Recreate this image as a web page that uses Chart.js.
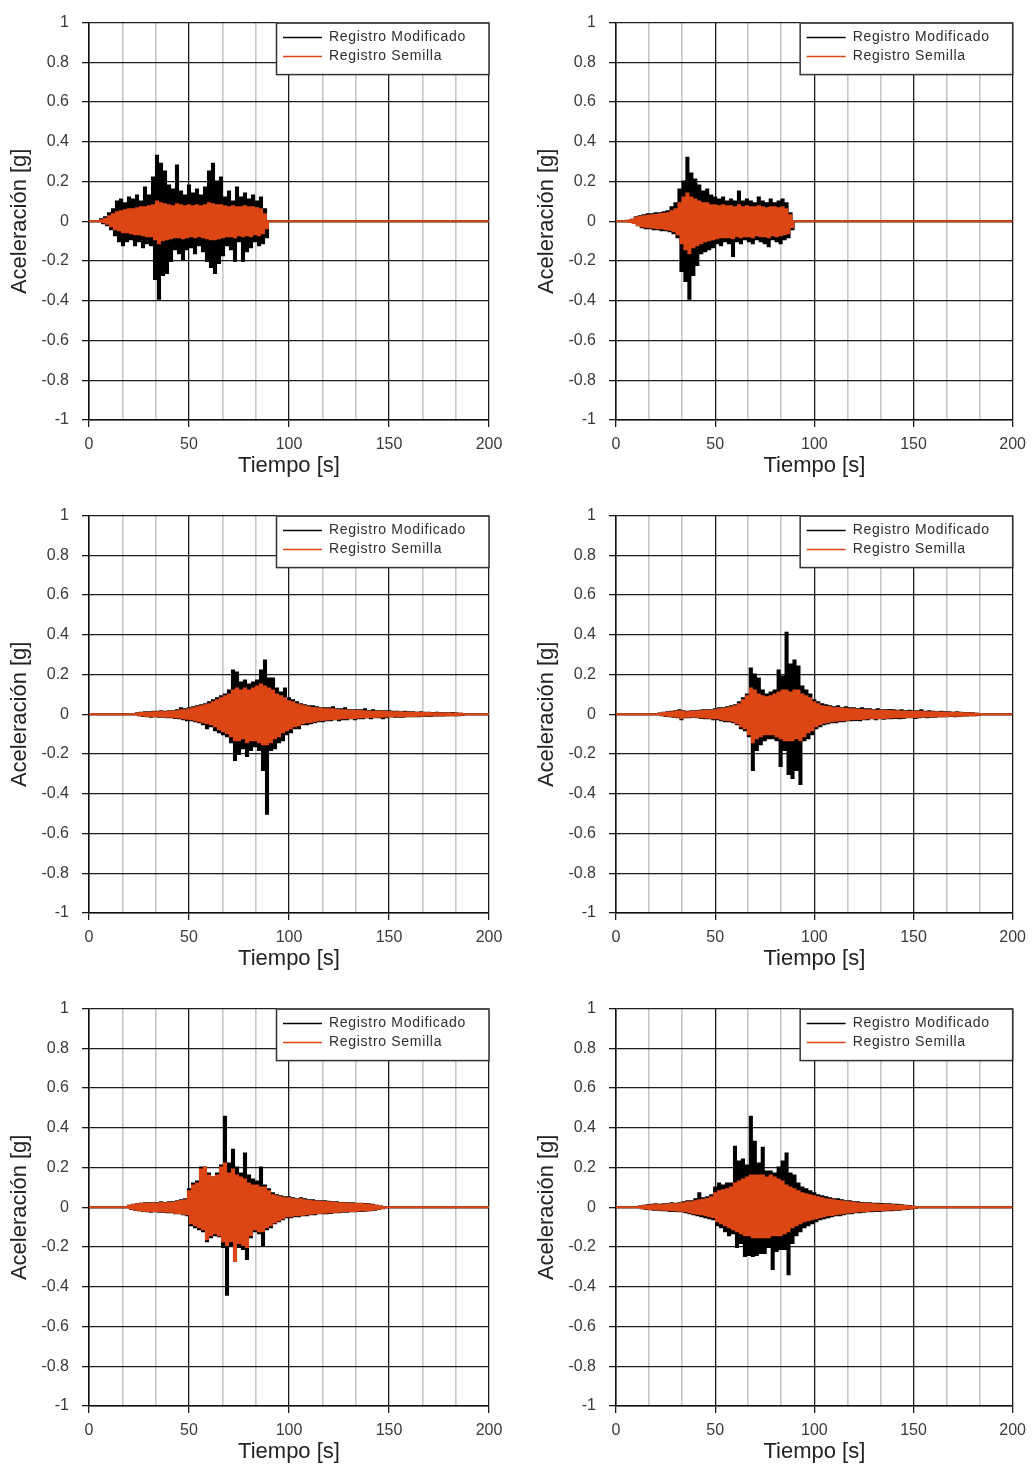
<!DOCTYPE html>
<html>
<head>
<meta charset="utf-8">
<script src="https://cdn.jsdelivr.net/npm/chart.js@4.4.1/dist/chart.umd.min.js"></script>
<style>
  html, body { margin: 0; padding: 0; background: #ffffff; overflow: hidden; }
  body { width: 1034px; height: 1468px; position: relative; }
  canvas { position: absolute; }
</style>
</head>
<body>
<canvas id="c0" width="517" height="482" style="left:0px;top:0px"></canvas>
<canvas id="c1" width="507" height="482" style="left:527px;top:0px"></canvas>
<canvas id="c2" width="517" height="482" style="left:0px;top:493px"></canvas>
<canvas id="c3" width="507" height="482" style="left:527px;top:493px"></canvas>
<canvas id="c4" width="517" height="482" style="left:0px;top:986px"></canvas>
<canvas id="c5" width="507" height="482" style="left:527px;top:986px"></canvas>
<script>
// ---------------- DATA ----------------
const seriesNames = ['Registro Modificado', 'Registro Semilla'];
const xTitle = 'Tiempo [s]';
const yTitle = 'Aceleración [g]';
const xMajorTicks = [0, 50, 100, 150, 200];
const xTickLabels = ['0', '50', '100', '150', '200'];
const yTickValues = [-1, -0.8, -0.6, -0.4, -0.2, 0, 0.2, 0.4, 0.6, 0.8, 1];
const yTickLabels = ['-1', '-0.8', '-0.6', '-0.4', '-0.2', '0', '0.2', '0.4', '0.6', '0.8', '1'];

// peak envelopes read every 2 s; first sample time per panel
const sampleStep = 2;
const panelStartTimes = [6, 6, 24, 22, 20, 12];

// Panel 1 (top-left)
const p1ModUp = [.01,.02,.04,.06,.10,.11,.09,.12,.11,.13,.10,.17,.13,.22,.33,.29,.25,.18,.16,.28,.15,.13,.18,.14,.16,.13,.17,.25,.29,.20,.22,.12,.15,.10,.17,.12,.14,.11,.13,.10,.12,.06];
const p1ModLo = [-.01,-.02,-.04,-.07,-.10,-.12,-.10,-.09,-.12,-.10,-.13,-.11,-.12,-.29,-.39,-.27,-.26,-.20,-.14,-.16,-.19,-.14,-.13,-.16,-.12,-.15,-.20,-.23,-.26,-.21,-.17,-.12,-.14,-.20,-.10,-.20,-.15,-.13,-.10,-.12,-.11,-.08];
const p1SemUp = [.005,.012,.025,.035,.045,.05,.055,.06,.06,.065,.07,.07,.075,.08,.10,.09,.085,.08,.075,.085,.08,.075,.08,.075,.08,.075,.08,.09,.085,.08,.08,.075,.07,.075,.07,.07,.075,.07,.07,.065,.06,.035];
const p1SemLo = [-.005,-.012,-.025,-.04,-.045,-.055,-.055,-.06,-.065,-.065,-.07,-.075,-.075,-.09,-.11,-.095,-.09,-.085,-.08,-.08,-.085,-.08,-.075,-.08,-.075,-.08,-.085,-.09,-.09,-.085,-.08,-.075,-.075,-.08,-.07,-.075,-.07,-.075,-.065,-.07,-.06,-.035];

// Panel 2 (top-right)
const p2ModUp = [.003,.008,.02,.025,.03,.035,.035,.04,.04,.045,.05,.07,.09,.16,.20,.32,.24,.21,.18,.15,.16,.13,.12,.11,.12,.10,.11,.10,.15,.10,.11,.10,.09,.12,.10,.09,.11,.09,.10,.11,.09,.04];
const p2ModLo = [-.003,-.008,-.02,-.03,-.035,-.035,-.04,-.04,-.045,-.045,-.05,-.06,-.08,-.25,-.30,-.39,-.27,-.22,-.16,-.15,-.14,-.13,-.11,-.12,-.10,-.11,-.175,-.10,-.11,-.09,-.10,-.11,-.09,-.10,-.11,-.125,-.09,-.10,-.11,-.09,-.08,-.04];
const p2SemUp = [.003,.008,.018,.022,.025,.028,.03,.032,.035,.038,.04,.05,.06,.09,.12,.14,.12,.11,.10,.09,.09,.08,.08,.075,.08,.075,.075,.07,.08,.07,.075,.07,.07,.075,.07,.065,.07,.07,.065,.07,.06,.03];
const p2SemLo = [-.003,-.008,-.018,-.025,-.028,-.03,-.032,-.035,-.035,-.04,-.042,-.05,-.065,-.11,-.14,-.16,-.13,-.12,-.11,-.10,-.095,-.09,-.085,-.08,-.08,-.08,-.085,-.075,-.08,-.075,-.075,-.08,-.07,-.075,-.075,-.08,-.07,-.075,-.07,-.065,-.06,-.03];

// Panel 3 (middle-left)
const p3ModUp = [.005,.008,.01,.01,.012,.012,.015,.012,.015,.015, .02,.03,.025,.03,.035,.04,.045,.05,.06,.07, .08,.09,.10,.12,.22,.21,.16,.17,.15,.16, .17,.22,.27,.18,.18,.13,.11,.13,.08,.07, .06,.05,.045,.04,.04,.035,.03,.03,.03,.035, .025,.025,.03,.02,.02,.02,.02,.025,.015,.02, .015,.015,.015,.015,.012,.012,.01,.012,.01,.01, .008,.01,.008,.008,.006,.008,.006,.005,.005,.006,.004,.003];
const p3ModLo = [-.005,-.008,-.01,-.012,-.01,-.012,-.012,-.015,-.015,-.018, -.02,-.025,-.03,-.03,-.035,-.04,-.05,-.07,-.06,-.08, -.09,-.10,-.11,-.14,-.23,-.20,-.17,-.21,-.18,-.16, -.18,-.28,-.50,-.18,-.17,-.14,-.13,-.10,-.09,-.07, -.07,-.05,-.05,-.045,-.04,-.035,-.035,-.03,-.03,-.025, -.03,-.025,-.025,-.02,-.025,-.02,-.02,-.015,-.02,-.015, -.015,-.02,-.015,-.01,-.012,-.012,-.012,-.01,-.01,-.01, -.01,-.008,-.008,-.008,-.006,-.006,-.006,-.005,-.005,-.005,-.004,-.003];
const p3SemUp = [.004,.006,.008,.008,.01,.01,.012,.01,.012,.012, .015,.02,.02,.025,.03,.035,.04,.045,.05,.06, .07,.08,.09,.10,.12,.13,.12,.13,.12,.13, .14,.15,.14,.13,.12,.10,.09,.08,.065,.06, .05,.045,.04,.035,.032,.03,.028,.025,.025,.025, .022,.02,.02,.018,.018,.016,.016,.015,.013,.013, .012,.012,.012,.011,.01,.01,.009,.009,.008,.008, .007,.007,.006,.006,.005,.005,.005,.004,.004,.004,.003,.002];
const p3SemLo = [-.004,-.006,-.008,-.009,-.01,-.01,-.011,-.012,-.012,-.014, -.016,-.02,-.022,-.025,-.03,-.035,-.04,-.045,-.05,-.06, -.075,-.085,-.095,-.11,-.13,-.13,-.12,-.14,-.13,-.13, -.14,-.15,-.15,-.14,-.12,-.11,-.09,-.08,-.07,-.06, -.055,-.045,-.04,-.038,-.034,-.03,-.028,-.026,-.025,-.024, -.022,-.02,-.02,-.018,-.018,-.016,-.015,-.014,-.013,-.013, -.012,-.012,-.011,-.01,-.01,-.01,-.009,-.009,-.008,-.008, -.007,-.007,-.006,-.006,-.005,-.005,-.005,-.004,-.004,-.004,-.003,-.002];

// Panel 4 (middle-right)
const p4ModUp = [.004,.008,.01,.012,.015,.02,.015,.012,.015,.015, .018,.02,.02,.02,.025,.03,.03,.035,.04,.045, .06,.08,.10,.23,.20,.18,.12,.10,.11,.12, .22,.19,.41,.25,.27,.24,.14,.12,.10,.07, .06,.05,.045,.04,.035,.04,.03,.035,.03,.03, .025,.03,.025,.025,.02,.025,.02,.02,.022,.02, .018,.02,.015,.018,.015,.015,.02,.012,.015,.012, .01,.012,.01,.01,.008,.01,.008,.006,.006,.005,.003];
const p4ModLo = [-.004,-.008,-.01,-.012,-.015,-.025,-.015,-.015,-.012,-.015, -.018,-.02,-.02,-.025,-.025,-.03,-.035,-.035,-.04,-.05, -.07,-.08,-.11,-.28,-.18,-.15,-.13,-.12,-.12,-.13, -.26,-.18,-.30,-.32,-.28,-.35,-.13,-.12,-.10,-.07, -.06,-.05,-.045,-.04,-.04,-.035,-.035,-.03,-.03,-.028, -.03,-.025,-.025,-.02,-.025,-.02,-.022,-.02,-.02,-.018, -.02,-.018,-.015,-.015,-.018,-.015,-.012,-.015,-.012,-.012, -.01,-.01,-.01,-.008,-.01,-.008,-.006,-.006,-.005,-.005,-.003];
const p4SemUp = [.003,.006,.008,.01,.012,.015,.012,.01,.012,.012, .015,.016,.017,.018,.02,.025,.027,.03,.035,.04, .05,.07,.09,.13,.12,.10,.09,.085,.09,.10, .11,.12,.12,.11,.12,.12,.10,.09,.08,.06, .05,.04,.038,.035,.03,.032,.028,.028,.025,.025, .022,.022,.02,.02,.018,.018,.017,.016,.016,.015, .015,.014,.013,.013,.012,.012,.012,.01,.01,.01, .009,.009,.008,.008,.007,.007,.006,.005,.005,.004,.002];
const p4SemLo = [-.003,-.006,-.008,-.01,-.012,-.018,-.012,-.012,-.01,-.012, -.015,-.016,-.017,-.02,-.02,-.025,-.028,-.03,-.035,-.045, -.06,-.07,-.10,-.14,-.12,-.11,-.10,-.10,-.10,-.11, -.12,-.13,-.13,-.13,-.12,-.13,-.11,-.09,-.08,-.06, -.05,-.042,-.038,-.035,-.032,-.03,-.03,-.027,-.025,-.024, -.024,-.022,-.02,-.018,-.02,-.018,-.018,-.017,-.016,-.015, -.015,-.014,-.013,-.013,-.013,-.012,-.011,-.011,-.01,-.01, -.009,-.009,-.008,-.007,-.007,-.007,-.006,-.005,-.005,-.004,-.002];

// Panel 5 (bottom-left)
const p5ModUp = [.008,.012,.015,.018,.02,.02,.022,.02,.025,.022, .025,.025,.03,.035,.04,.09,.12,.13,.20,.20, .17,.15,.17,.21,.455,.22,.29,.20,.17,.27, .16,.14,.13,.20,.11,.09,.07,.06,.055,.05, .05,.045,.04,.045,.04,.035,.035,.03,.03,.03, .028,.025,.025,.022,.022,.02,.02,.018,.018,.016, .015,.012,.008,.004];
const p5ModLo = [-.008,-.012,-.015,-.018,-.02,-.022,-.02,-.022,-.022,-.025, -.025,-.03,-.03,-.035,-.04,-.09,-.10,-.11,-.12,-.17, -.15,-.14,-.145,-.20,-.44,-.19,-.27,-.20,-.21,-.26, -.15,-.12,-.13,-.19,-.11,-.10,-.08,-.07,-.06,-.05, -.05,-.045,-.045,-.04,-.04,-.035,-.035,-.03,-.03,-.03, -.028,-.025,-.025,-.022,-.022,-.02,-.02,-.018,-.018,-.016, -.015,-.012,-.008,-.004];
const p5SemUp = [.007,.011,.014,.017,.018,.018,.02,.018,.022,.02, .022,.022,.028,.032,.035,.08,.11,.12,.19,.20, .16,.15,.16,.20,.22,.17,.19,.16,.15,.14, .12,.11,.11,.10,.10,.08,.06,.055,.05,.045, .045,.04,.038,.04,.035,.032,.03,.028,.028,.026, .025,.023,.022,.02,.02,.018,.018,.016,.016,.014, .013,.01,.007,.003];
const p5SemLo = [-.007,-.011,-.014,-.017,-.018,-.02,-.018,-.02,-.02,-.022, -.022,-.028,-.028,-.032,-.035,-.08,-.09,-.10,-.11,-.16, -.14,-.13,-.14,-.17,-.19,-.17,-.27,-.18,-.19,-.20, -.14,-.11,-.12,-.12,-.10,-.09,-.075,-.065,-.055,-.045, -.045,-.04,-.04,-.037,-.035,-.032,-.03,-.028,-.027,-.026, -.025,-.023,-.022,-.02,-.02,-.018,-.018,-.016,-.016,-.014, -.013,-.01,-.007,-.003];

// Panel 6 (bottom-right)
const p6ModUp = [.004,.008,.01,.012,.015,.012,.015,.015,.02,.018, .02,.025,.03,.03,.04,.07,.045,.05,.06,.10, .12,.11,.12,.12,.305,.23,.24,.21,.455,.33, .22,.30,.18,.18,.17,.20,.23,.27,.17,.16, .12,.10,.09,.08,.07,.06,.055,.05,.045,.04, .04,.035,.03,.03,.025,.025,.022,.02,.02,.018, .018,.016,.015,.015,.012,.012,.01,.008,.006,.003];
const p6ModLo = [-.004,-.008,-.01,-.012,-.012,-.015,-.015,-.018,-.018,-.02, -.02,-.025,-.03,-.035,-.04,-.045,-.05,-.055,-.06,-.09, -.10,-.12,-.14,-.13,-.20,-.18,-.245,-.24,-.245,-.24, -.23,-.23,-.20,-.31,-.22,-.21,-.21,-.337,-.18,-.14, -.12,-.10,-.09,-.08,-.07,-.06,-.055,-.05,-.045,-.04, -.04,-.035,-.03,-.03,-.025,-.025,-.022,-.02,-.02,-.018, -.018,-.016,-.015,-.014,-.012,-.012,-.01,-.008,-.006,-.003];
const p6SemUp = [.003,.006,.008,.01,.012,.01,.012,.012,.016,.015, .017,.02,.025,.025,.03,.035,.038,.042,.05,.07, .08,.085,.09,.10,.12,.13,.14,.15,.16,.16, .16,.16,.15,.16,.15,.14,.13,.11,.10,.09, .08,.07,.065,.06,.055,.05,.045,.04,.038,.035, .032,.03,.026,.025,.022,.02,.019,.018,.016,.015, .014,.013,.012,.011,.01,.009,.008,.006,.004,.002];
const p6SemLo = [-.003,-.006,-.008,-.01,-.01,-.012,-.012,-.015,-.015,-.017, -.017,-.02,-.025,-.03,-.032,-.035,-.04,-.045,-.05,-.07, -.08,-.09,-.10,-.11,-.12,-.13,-.14,-.14,-.15,-.15, -.15,-.15,-.15,-.14,-.14,-.14,-.13,-.12,-.10,-.09, -.08,-.07,-.065,-.06,-.055,-.05,-.045,-.04,-.038,-.035, -.032,-.03,-.026,-.025,-.022,-.02,-.019,-.018,-.016,-.015, -.014,-.013,-.012,-.011,-.01,-.009,-.008,-.006,-.004,-.002];

const panelSeries = [
  [p1ModUp, p1ModLo, p1SemUp, p1SemLo],
  [p2ModUp, p2ModLo, p2SemUp, p2SemLo],
  [p3ModUp, p3ModLo, p3SemUp, p3SemLo],
  [p4ModUp, p4ModLo, p4SemUp, p4SemLo],
  [p5ModUp, p5ModLo, p5SemUp, p5SemLo],
  [p6ModUp, p6ModLo, p6SemUp, p6SemLo]
];

// ---------------- STYLE ----------------
const FONT = "'Liberation Sans', Arial, Helvetica, sans-serif";
const COL_MOD = '#000000';
const COL_SEM = '#dc4614';
const GRID_MAJOR = '#1c1c1c';
const GRID_MINOR = '#c6c6c6';

// trace built from the read envelopes: max then min within each 2 s window,
// flat zero before and after the record
function buildTrace(t0, up, lo) {
  const pts = [{ x: xMajorTicks[0], y: 0 }, { x: t0 - sampleStep / 2, y: 0 }];
  for (let i = 0; i < up.length; i++) {
    const t = t0 + i * sampleStep;
    pts.push({ x: t, y: up[i] });
    pts.push({ x: t + sampleStep / 2, y: lo[i] });
  }
  pts.push({ x: t0 + up.length * sampleStep, y: 0 });
  pts.push({ x: xMajorTicks[xMajorTicks.length - 1], y: 0 });
  return pts;
}

// x ticks: majors plus two minor divisions between each
const xAllTicks = [];
for (let i = 0; i < xMajorTicks.length; i++) {
  xAllTicks.push(xMajorTicks[i]);
  if (i < xMajorTicks.length - 1) {
    const a = xMajorTicks[i], b = xMajorTicks[i + 1];
    xAllTicks.push(a + (b - a) / 3, a + 2 * (b - a) / 3);
  }
}
const isMajor = v => xMajorTicks.indexOf(v) >= 0;

const legendPlugin = {
  id: 'boxLegend',
  afterDraw(chart) {
    const ctx = chart.ctx, ca = chart.chartArea;
    const w = 213, h = 52;
    const x0 = ca.right - w, y0 = ca.top;
    ctx.save();
    ctx.fillStyle = '#ffffff';
    ctx.fillRect(x0, y0, w, h);
    ctx.strokeStyle = '#333333';
    ctx.lineWidth = 1.5;
    ctx.strokeRect(x0 + 0.5, y0 + 0.5, w - 0.5, h - 0.5);
    const rows = [[seriesNames[0], COL_MOD, 15], [seriesNames[1], COL_SEM, 34]];
    ctx.font = '14px ' + FONT;
    try { ctx.letterSpacing = '0.7px'; } catch (e) {}
    ctx.textBaseline = 'middle';
    ctx.textAlign = 'left';
    rows.forEach(r => {
      ctx.strokeStyle = r[1];
      ctx.lineWidth = 1.5;
      ctx.beginPath();
      ctx.moveTo(x0 + 7, y0 + r[2]);
      ctx.lineTo(x0 + 46, y0 + r[2]);
      ctx.stroke();
      ctx.fillStyle = '#2e2e2e';
      ctx.fillText(r[0], x0 + 53, y0 + r[2]);
    });
    ctx.restore();
  }
};

function makeChart(idx) {
  const col = idx % 2;
  const s = panelSeries[idx];
  const t0 = panelStartTimes[idx];
  const canvas = document.getElementById('c' + idx);
  return new Chart(canvas, {
    type: 'line',
    data: {
      datasets: [
        { label: seriesNames[0], data: buildTrace(t0, s[0], s[1]), borderColor: COL_MOD, borderWidth: 2.1, stepped: 'middle', order: 2 },
        { label: seriesNames[1], data: buildTrace(t0, s[2], s[3]), borderColor: COL_SEM, borderWidth: 2.1, stepped: 'middle', order: 1 }
      ]
    },
    options: {
      responsive: false,
      animation: false,
      events: [],
      parsing: false,
      normalized: true,
      layout: { padding: { left: 0, right: col === 0 ? 28 : 18, top: 20, bottom: 0 } },
      plugins: { legend: { display: false }, tooltip: { enabled: false }, title: { display: false } },
      elements: {
        point: { radius: 0 },
        line: { tension: 0, borderJoinStyle: 'miter', fill: false }
      },
      scales: {
        x: {
          type: 'linear',
          min: xMajorTicks[0],
          max: xMajorTicks[xMajorTicks.length - 1],
          afterBuildTicks: sc => { sc.ticks = xAllTicks.map(v => ({ value: v })); },
          afterFit: sc => { sc.height = 62; },
          grid: {
            color: c => (c.tick && isMajor(c.tick.value)) ? GRID_MAJOR : GRID_MINOR,
            lineWidth: c => (c.tick && isMajor(c.tick.value)) ? 1.3 : 1.6,
            tickLength: 7,
            tickColor: c => (c.tick && isMajor(c.tick.value)) ? GRID_MAJOR : 'rgba(0,0,0,0)',
            tickWidth: 1.3
          },
          border: { color: '#111111', width: 1.5 },
          ticks: {
            autoSkip: false,
            maxRotation: 0,
            padding: 8,
            color: '#3a3a3a',
            font: { family: FONT, size: 16 },
            callback: v => { const k = xMajorTicks.indexOf(v); return k >= 0 ? xTickLabels[k] : ''; }
          },
          title: {
            display: true, text: xTitle, color: '#222222',
            font: { family: FONT, size: 22 },
            padding: { top: 0, bottom: 3 }
          }
        },
        y: {
          type: 'linear',
          min: yTickValues[0],
          max: yTickValues[yTickValues.length - 1],
          afterBuildTicks: sc => { sc.ticks = yTickValues.map(v => ({ value: v })); },
          afterFit: sc => { sc.width = 89; },
          grid: { color: GRID_MAJOR, lineWidth: 1.3, tickLength: 7, tickColor: GRID_MAJOR, tickWidth: 1.3 },
          border: { color: '#111111', width: 1.5 },
          ticks: {
            padding: 13,
            color: '#3a3a3a',
            font: { family: FONT, size: 16 },
            callback: v => { const k = yTickValues.indexOf(v); return k >= 0 ? yTickLabels[k] : ''; }
          },
          title: {
            display: true, text: yTitle, color: '#222222',
            font: { family: FONT, size: 22 },
            padding: { top: 7, bottom: 0 }
          }
        }
      }
    },
    plugins: [legendPlugin]
  });
}

for (let i = 0; i < 6; i++) makeChart(i);
</script>
</body>
</html>
